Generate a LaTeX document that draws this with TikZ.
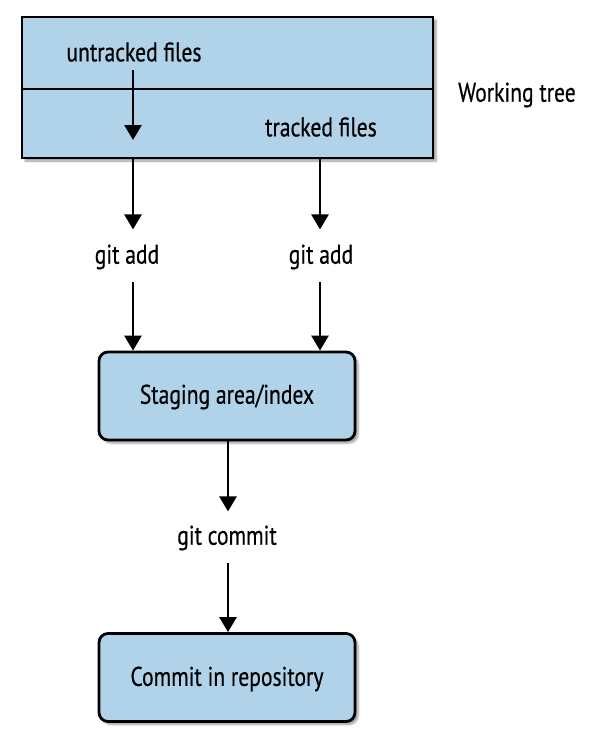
\documentclass[tikz,border=0pt]{standalone}
\usepackage{fontspec}
\setmainfont[FakeStretch=0.8,FakeBold=0.5]{PT Sans}
\usetikzlibrary{arrows.meta,shadows.blur}
\definecolor{boxblue}{HTML}{B1D3E9}
\tikzset{
  box/.style={draw=black, line width=2.8pt, fill=boxblue, inner sep=0pt,
    blur shadow={shadow xshift=3pt, shadow yshift=-3pt, shadow blur steps=6, shadow opacity=40}},
  rbox/.style={box, rounded corners=9pt, minimum width=256pt, minimum height=88pt},
  lbl/.style={inner sep=0pt, font=\fontsize{27}{30}\selectfont},
  arr/.style={line width=2.6pt, -{Triangle[width=17pt,length=15pt]}},
}
\begin{document}
\begin{tikzpicture}[x=1pt,y=-1pt]
\useasboundingbox (0,0) rectangle (589,737);
% working tree box
\node[box, minimum width=411pt, minimum height=141pt] (wt) at (227.5,87.5) {};
\coordinate (divl) at (22,89);
\coordinate (divr) at (433,89);
\draw[line width=2.8pt] (divl) -- (divr);
\node[lbl] (untr) at (134,52) {untracked files};
\node[lbl] (tr) at (321,127) {tracked files};
\node[lbl, anchor=west] (wtl) at (458,95) {Working tree};
\coordinate (inner) at (133,140);
\draw[arr] (133,70) -- (inner);
% git add labels
\node[lbl] (ga1) at (127,257) {git add};
\node[lbl] (ga2) at (321,257) {git add};
% staging box
\node[rbox] (st) at (227,396) {};
\node[lbl] (stl) at (227,397) {Staging area/index};
\node[lbl] (gc) at (227,538) {git commit};
\node[rbox] (cm) at (227,677.5) {};
\node[lbl] (cml) at (227,679) {Commit in repository};
% connectors
\draw[arr] (wt.south -| 133,0) -- ++(0,70);
\draw[arr] (wt.south -| 320,0) -- ++(0,70);
\draw[arr] (133,282) -- (st.north -| 133,0);
\draw[arr] (320,282) -- (st.north -| 320,0);
\draw[arr] (st.south -| 228,0) -- ++(0,70);
\draw[arr] (228,563) -- (cm.north -| 228,0);
\end{tikzpicture}
\end{document}
